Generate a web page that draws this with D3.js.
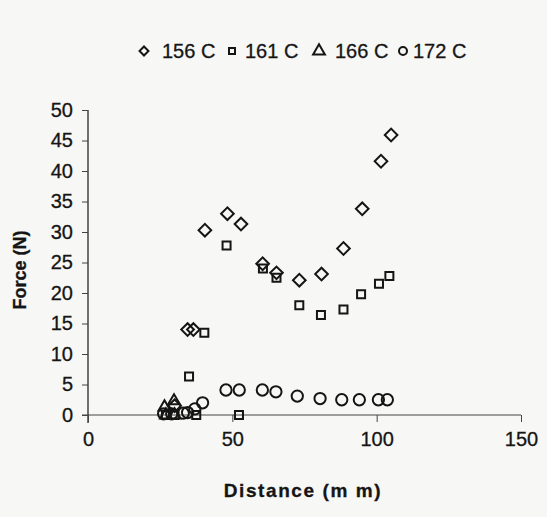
<!DOCTYPE html>
<html>
<head>
<meta charset="utf-8">
<script src="https://cdn.jsdelivr.net/npm/d3@7"></script>
<style>
  html, body { margin: 0; padding: 0; background: #f7f7f5; }
  svg { display: block; }
  text { font-family: "Liberation Sans", Arial, sans-serif; fill: #151515; stroke: #151515; stroke-width: 0.3px; }
</style>
</head>
<body>
<svg id="chart" width="547" height="517"></svg>
<script>
// ---- data ----
const seriesNames = ["156 C", "161 C", "166 C", "172 C"];

const d156x = [30, 34.5, 36.5, 40.5, 48.3, 53, 60.5, 65.3, 73.2, 80.9, 88.5, 95, 101.5, 105];
const d156y = [1.5, 14, 14, 30.3, 33, 31.3, 24.8, 23.3, 22.1, 23.1, 27.3, 33.8, 41.6, 45.9];

const d161x = [27, 30, 35, 37.5, 40.3, 48, 52.3, 60.6, 65.3, 73.2, 80.7, 88.5, 94.6, 100.8, 104.4];
const d161y = [0, 0, 6.3, 0, 13.5, 27.8, 0, 24.0, 22.5, 18, 16.4, 17.3, 19.8, 21.5, 22.8];

const d166x = [26.5, 29.8, 27, 30];
const d166y = [1.3, 2.3, 0, 0];

const d172x = [26.2, 29, 33, 34.5, 37, 39.7, 47.8, 52.4, 60.4, 65.1, 72.5, 80.4, 87.9, 94, 100.6, 103.7];
const d172y = [0.2, 0.2, 0.3, 0.4, 1.0, 2.0, 4.1, 4.1, 4.1, 3.8, 3.1, 2.7, 2.5, 2.5, 2.5, 2.5];

const xTicks = [0, 50, 100, 150];
const yTicks = [0, 5, 10, 15, 20, 25, 30, 35, 40, 45, 50];

// ---- layout ----
const svg = d3.select("#chart");
const x = d3.scaleLinear().domain([0, 150]).range([88, 521]);
const y = d3.scaleLinear().domain([0, 50]).range([415, 110]);
const ink = "#151515";

// axes
const yAxis = d3.axisLeft(y).tickValues(yTicks).tickSize(6).tickPadding(9);
const gy = svg.append("g").attr("transform", `translate(${x(0)},0)`).call(yAxis);
gy.select(".domain").attr("stroke", ink).attr("stroke-width", 1.2).attr("d", `M0,${y(50)}V${y(0) + 8}`);
gy.selectAll(".tick line").attr("stroke", "#444");
gy.selectAll(".tick text").style("font-size", "20px").attr("fill", ink);

const xAxis = d3.axisBottom(x).tickValues(xTicks).tickSize(7).tickPadding(10);
const gx = svg.append("g").attr("transform", `translate(0,${y(0)})`).call(xAxis);
gx.select(".domain").attr("stroke", "#444").attr("stroke-width", 1).attr("d", `M${x(0) - 6},0H${x(150)}`);
gx.selectAll(".tick line").attr("stroke", "#444");
gx.selectAll(".tick text").style("font-size", "20px").attr("fill", ink);

// titles
svg.append("text").attr("x", 303).attr("y", 497).attr("text-anchor", "middle")
  .style("font-size", "19px").style("font-weight", "bold").style("letter-spacing", "1.6px")
  .text("Distance (m m)");
svg.append("text").attr("transform", "translate(26,270) rotate(-90)").attr("text-anchor", "middle")
  .style("font-size", "18px").style("font-weight", "bold")
  .text("Force (N)");

// markers
const shapes = [
  { xs: d156x, ys: d156y, type: d3.symbolSquare, size: 80, rot: 45 },
  { xs: d161x, ys: d161y, type: d3.symbolSquare, size: 64, rot: 0 },
  { xs: d166x, ys: d166y, type: d3.symbolTriangle, size: 60, rot: 0 },
  { xs: d172x, ys: d172y, type: d3.symbolCircle, size: 100, rot: 0 }
];

const plot = svg.append("g");
shapes.forEach(s => {
  const path = d3.symbol().type(s.type).size(s.size)();
  plot.append("g").selectAll("path")
    .data(d3.range(s.xs.length))
    .join("path")
    .attr("d", path)
    .attr("transform", i => `translate(${x(s.xs[i])},${y(s.ys[i])}) rotate(${s.rot})`)
    .attr("fill", "none")
    .attr("stroke", ink)
    .attr("stroke-width", 2);
});

// legend
const legendItems = [
  { sx: 144, tx: 162, s: shapes[0], size: 40 },
  { sx: 232, tx: 245, s: shapes[1], size: 36 },
  { sx: 319, tx: 335, s: shapes[2], size: 60 },
  { sx: 403, tx: 413, s: shapes[3], size: 50 }
];
const lg = svg.append("g");
legendItems.forEach((it, i) => {
  lg.append("path")
    .attr("d", d3.symbol().type(it.s.type).size(it.size)())
    .attr("transform", `translate(${it.sx},51) rotate(${it.s.rot})`)
    .attr("fill", "none").attr("stroke", ink).attr("stroke-width", 2);
  lg.append("text").attr("x", it.tx).attr("y", 58)
    .style("font-size", "20px").text(seriesNames[i]);
});
</script>
</body>
</html>
